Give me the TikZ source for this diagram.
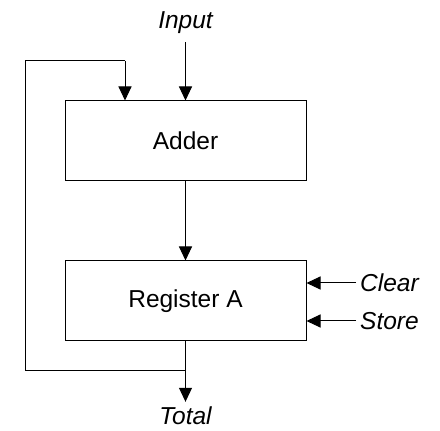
\documentclass[tikz,border=0pt]{standalone}
\usepackage{fontspec}
\setmainfont{Liberation Sans}
\usepackage{tikz}
\usetikzlibrary{arrows.meta,calc}
\tikzstyle{block} = [rectangle, draw, line width=1pt, minimum width=241pt, minimum height=80pt, font=\fontsize{24.5}{29}\selectfont]
\tikzstyle{signal} = [inner sep=4pt, font=\fontsize{24.5}{29}\selectfont\itshape]
\tikzstyle{wire} = [line width=1pt]
\tikzset{flow/.style={line width=1pt, arrows={-Triangle[length=14pt, width=13pt]}}}

\begin{document}
\begin{tikzpicture}[x=1pt,y=1pt]
    \useasboundingbox (0,0) rectangle (440,431);

    \node[block] (adder) at (185.5,290) {Adder};
    \node[block] (reg) at (185.5,130) {Register A};

    \node[signal] (input) at (185.5,408) {Input};
    \node[signal] (total) at (185.5,15) {Total};
    \node[signal, anchor=west] (clear) at (356,148) {Clear};
    \node[signal, anchor=west] (store) at (356,110) {Store};

    \draw[flow, shorten <=4pt] (input) -- (adder);
    \draw[flow] (adder) -- (reg);
    \draw[flow, shorten >=1pt] (reg) -- (total);
    \draw[flow] (clear.west) -- (clear -| reg.east);
    \draw[flow] (store.west) -- (store -| reg.east);

    % feedback loop
    \coordinate (tap) at (185.5,60);
    \coordinate (fbl) at (25,60);
    \coordinate (fbt) at (25,370);
    \coordinate (fbr) at (125,370);
    \draw[wire] (tap) -- (fbl) -- (fbt) -- (fbr);
    \draw[flow] (fbr) -- (fbr |- adder.north);
\end{tikzpicture}
\end{document}
